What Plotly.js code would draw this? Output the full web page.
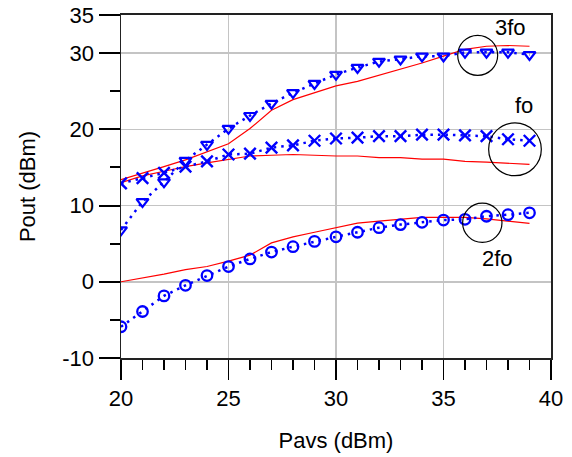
<!DOCTYPE html>
<html>
<head>
<meta charset="utf-8">
<script src="https://cdn.plot.ly/plotly-3.0.1.min.js"></script>
<style>html,body{margin:0;padding:0;background:#fff;}#chart{width:572px;height:457px;}</style>
</head>
<body>
<div id="chart"></div>
<script>
var pavs = [20,21,22,23,24,25,26,27,28,29,30,31,32,33,34,35,36,37,38,39];

var meas3fo = [6.8,10.5,13.1,15.9,18.0,20.1,21.8,23.4,24.8,26.0,27.2,28.1,28.9,29.2,29.6,29.6,30.1,30.1,30.1,29.8];
var sim3fo  = [13.4,14.2,15.1,16.0,17.0,18.1,20.1,22.5,23.9,24.8,25.7,26.3,27.1,27.8,28.7,29.6,30.5,30.9,31.0,30.9];

var measFo  = [12.9,13.6,14.3,15.1,15.8,16.7,16.8,17.6,17.9,18.5,18.8,18.9,19.1,19.1,19.3,19.3,19.2,19.1,18.7,18.5];
var simFo   = [13.0,13.9,14.5,15.1,15.6,16.1,16.5,16.6,16.7,16.6,16.5,16.5,16.3,16.3,16.1,16.1,15.8,15.7,15.5,15.4];

var meas2fo = [-5.9,-3.9,-1.85,-0.46,0.82,2.0,3.0,3.9,4.6,5.3,5.9,6.5,7.1,7.5,7.8,8.1,8.2,8.6,8.8,9.05];
var sim2fo  = [0.0,0.48,1.0,1.6,2.0,2.7,3.5,5.1,5.9,6.5,7.1,7.7,7.96,8.16,8.45,8.45,8.45,8.26,7.96,7.66];

var xTicks = [20,25,30,35,40];
var yTicks = [-10,0,10,20,30,35];
var yMinor = [-5,5,15,25];

var labels = ['3fo','fo','2fo'];
var labelX = [38.11,38.76,37.51];
var labelY = [33.35,23.1,3.02];
var circX0 = [35.66,37.10,35.89];
var circX1 = [37.52,39.55,37.72];
var circY0 = [27.08,13.92,5.16];
var circY1 = [32.34,20.84,10.33];

var blue = '#0000ff';
var red = '#ff0000';
var dotDash = '2.5px,5px';

function measTrace(y, sym, size, lw) {
  return {x: pavs, y: y, type: 'scatter', mode: 'lines+markers',
    line: {color: blue, width: 2.5, dash: dotDash},
    marker: {symbol: sym, size: size, color: blue, line: {color: blue, width: lw}},
    showlegend: false, hoverinfo: 'none'};
}
function simTrace(y) {
  return {x: pavs, y: y, type: 'scatter', mode: 'lines',
    line: {color: red, width: 1.2}, showlegend: false, hoverinfo: 'none'};
}

var data = [
  simTrace(sim3fo), simTrace(simFo), simTrace(sim2fo),
  measTrace(meas3fo, 'triangle-down-open', 10.5, 2.2),
  measTrace(measFo, 'x-thin-open', 11.5, 2.4),
  measTrace(meas2fo, 'circle-open', 10.5, 2.3)
];

var shapes = [];
var annotations = [];
for (var i = 0; i < labels.length; i++) {
  shapes.push({type: 'circle', xref: 'x', yref: 'y', x0: circX0[i], x1: circX1[i], y0: circY0[i], y1: circY1[i],
    line: {color: '#000', width: 1.2}});
  annotations.push({x: labelX[i], y: labelY[i], xref: 'x', yref: 'y', text: labels[i], showarrow: false,
    font: {family: 'Liberation Sans, Arial, sans-serif', size: 22, color: '#000'}});
}

var font = {family: 'Liberation Sans, Arial, sans-serif', size: 22, color: '#000'};

var layout = {
  width: 572, height: 457,
  margin: {l: 121, r: 21, t: 15, b: 99, pad: 0},
  paper_bgcolor: '#fff', plot_bgcolor: '#fff',
  font: font,
  xaxis: {
    range: [20, 40], tickvals: xTicks, ticktext: xTicks.map(String),
    ticks: 'outside', ticklen: 20, tickwidth: 1.5, tickcolor: '#000',
    minor: {dtick: 1, tick0: 20, ticks: 'outside', ticklen: 10, tickwidth: 1.5, tickcolor: '#000', showgrid: false},
    showgrid: true, gridcolor: '#c4c4c4', gridwidth: 1.5,
    showline: true, linecolor: '#222', linewidth: 2, mirror: true,
    zeroline: false, tickfont: font,
    title: {text: 'Pavs (dBm)', font: font, standoff: 22}
  },
  yaxis: {
    range: [-10, 35], tickvals: yTicks, ticktext: yTicks.map(String),
    ticks: 'outside', ticklen: 21, tickwidth: 2, tickcolor: '#000',
    minor: {tickvals: yMinor, ticks: 'outside', ticklen: 10, tickwidth: 2, tickcolor: '#000', showgrid: false},
    showgrid: true, gridcolor: '#c4c4c4', gridwidth: 1.5,
    showline: true, linecolor: '#222', linewidth: 1.5, mirror: true,
    zeroline: false, tickfont: font,
    title: {text: 'Pout (dBm)', font: font, standoff: 20}
  },
  shapes: shapes,
  annotations: annotations
};

Plotly.newPlot('chart', data, layout, {staticPlot: true, displayModeBar: false});
</script>
</body>
</html>
